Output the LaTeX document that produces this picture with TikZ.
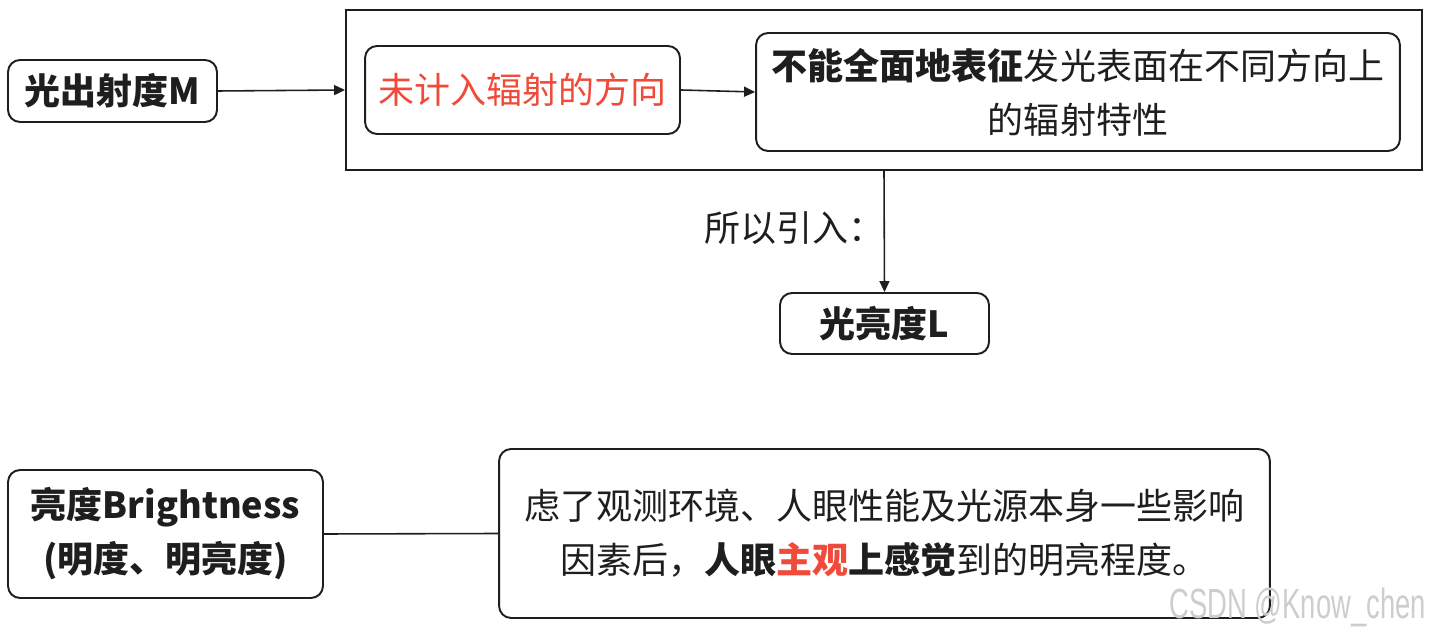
\documentclass[tikz,border=0pt]{standalone}
\usepackage{fontspec}
\setmainfont{Noto Sans CJK SC}
\newfontfamily\wmfont{Liberation Sans}
\usetikzlibrary{arrows.meta}
\definecolor{hl}{RGB}{240,74,58}
\definecolor{ink}{RGB}{30,30,30}
\definecolor{wm}{RGB}{205,205,205}
\begin{document}
\begin{tikzpicture}[x=0.02cm,y=-0.02cm,
 box/.style={draw=ink, line width=1.1pt, rounded corners=0.24cm, inner sep=0pt, align=center, font=\fontsize{20.5}{30.7}\selectfont, text=ink},
 frame/.style={draw=ink, line width=1.2pt, inner sep=0pt},
 conn/.style={draw=ink, line width=0.9pt},
 arr/.style={conn, -{Triangle[length=0.22cm,width=0.2cm]}},
 lbl/.style={inner sep=0pt, font=\fontsize{20.5}{30.7}\selectfont, text=ink}]
\useasboundingbox (0,0) rectangle (1430,634);
\node[frame, minimum width=21.52cm, minimum height=3.2cm] (big) at (884,90) {};
\node[box, minimum width=4.18cm, minimum height=1.24cm] (M) at (112.5,91) {\bfseries 光出射度M};
\node[box, minimum width=6.3cm, minimum height=1.76cm, text=hl] (wei) at (522.5,90) {未计入辐射的方向};
\node[box, minimum width=12.88cm, minimum height=2.36cm] (rt) at (1078,92) {{\bfseries 不能全面地表征}发光表面在不同方向上\\的辐射特性};
\node[box, minimum width=4.18cm, minimum height=1.22cm] (L) at (884.5,323.5) {\bfseries 光亮度L};
\node[lbl, anchor=east] (so) at (885,228) {所以引入：};
\node[box, minimum width=6.3cm, minimum height=2.56cm] (bright) at (165.5,534) {\bfseries 亮度Brightness\\\bfseries (明度、明亮度)};
\node[box, minimum width=15.42cm, minimum height=3.38cm] (desc) at (884.5,533.5) {虑了观测环境、人眼性能及光源本身一些影响\\因素后，{\bfseries 人眼\textcolor{hl}{主观}上感觉}到的明亮程度。};
\node[inner sep=0pt, anchor=east, text=wm, font=\wmfont\fontsize{24}{26}\selectfont, xscale=0.65] (wmk) at (1426,607) {CSDN @Know\_chen};
\draw[arr] (M.east) -- (big.west);
\draw[arr] (wei.east) -- (rt.west);
\draw[arr] (big.south) -- (L.north);
\draw[conn] (bright.east) -- (desc.west);
\end{tikzpicture}
\end{document}
